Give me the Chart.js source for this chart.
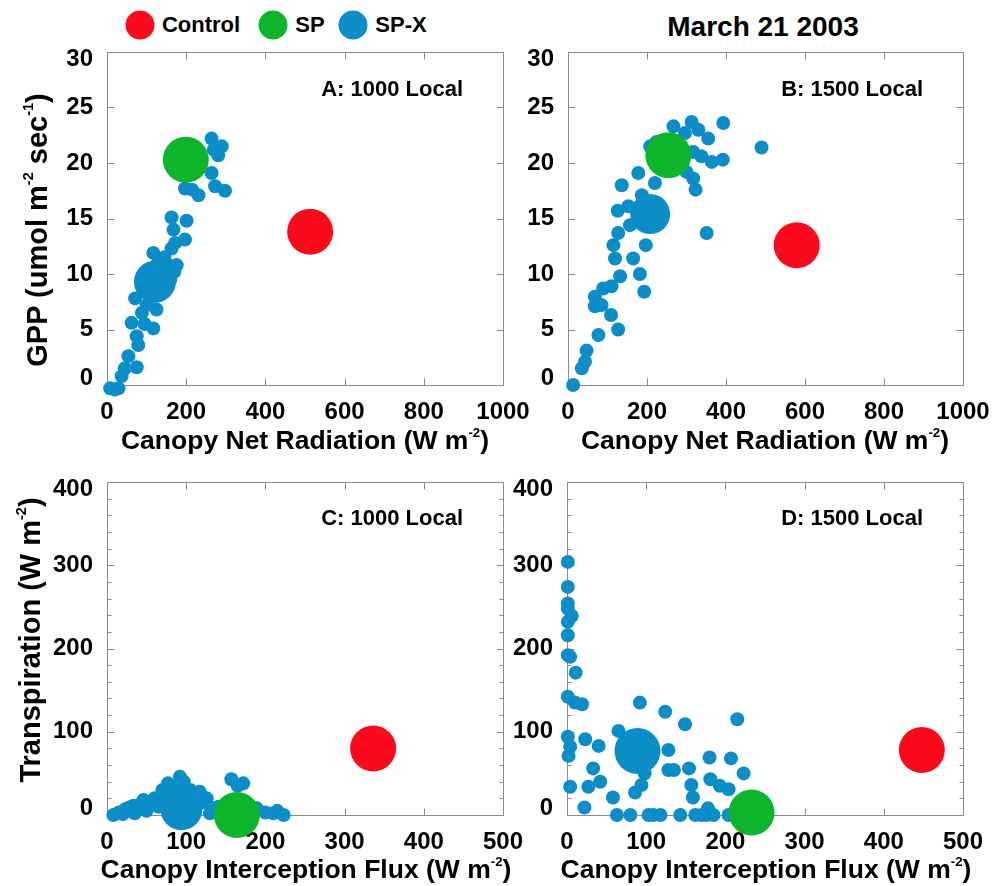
<!DOCTYPE html>
<html>
<head>
<meta charset="utf-8">
<script src="https://cdn.jsdelivr.net/npm/chart.js@4.4.1/dist/chart.umd.min.js"></script>
<style>
  html, body { margin: 0; padding: 0; background: #fff; }
  #page { position: relative; width: 1007px; height: 886px; overflow: hidden;
          font-family: "Liberation Sans", Arial, Helvetica, sans-serif; font-weight: bold; color: #000; }
  .cv { position: absolute; }
  .txt { position: absolute; white-space: nowrap; line-height: 1; transform: translate(-50%, -50%); }
  .rt { position: absolute; white-space: nowrap; line-height: 1; transform: translate(-100%, -50%); }
  .rot { position: absolute; white-space: nowrap; line-height: 1; transform: translate(-50%, -50%) rotate(-90deg); }
  sup { font-size: 0.5em; vertical-align: 0.9em; line-height: 0; }
  .dot { position: absolute; width: 29px; height: 29px; border-radius: 50%; transform: translate(-50%, -50%); }
</style>
</head>
<body>
<div id="page">
  <!-- legend -->
  <div class="dot" style="left:140px; top:25px; background:#fb0a1c"></div>
  <div class="txt" style="left:201px; top:25px; font-size:22px">Control</div>
  <div class="dot" style="left:273px; top:25px; background:#0db52b"></div>
  <div class="txt" style="left:310px; top:25px; font-size:22px">SP</div>
  <div class="dot" style="left:353px; top:25px; background:#0b8ec8"></div>
  <div class="txt" style="left:401px; top:25px; font-size:22px">SP-X</div>
  <div class="txt" style="left:763px; top:27px; font-size:28px">March 21 2003</div>

  <canvas id="cA" class="cv"></canvas>
  <canvas id="cB" class="cv"></canvas>
  <canvas id="cC" class="cv"></canvas>
  <canvas id="cD" class="cv"></canvas>

  <div class="rt" style="left:463px; top:89px; font-size:22px">A: 1000 Local</div>
  <div class="rt" style="left:923px; top:89px; font-size:22px">B: 1500 Local</div>
  <div class="rt" style="left:463px; top:518px; font-size:22px">C: 1000 Local</div>
  <div class="rt" style="left:923px; top:518px; font-size:22px">D: 1500 Local</div>

  <div class="txt" style="left:305px; top:440px; font-size:26.5px">Canopy Net Radiation (W m<sup>-2</sup>)</div>
  <div class="txt" style="left:765px; top:440px; font-size:26.5px">Canopy Net Radiation (W m<sup>-2</sup>)</div>
  <div class="txt" style="left:306px; top:869px; font-size:26.5px">Canopy Interception Flux (W m<sup>-2</sup>)</div>
  <div class="txt" style="left:766px; top:869px; font-size:26.5px">Canopy Interception Flux (W m<sup>-2</sup>)</div>

  <div class="rot" style="left:37px; top:230px; font-size:29px">GPP (umol m<sup>-2</sup> sec<sup>-1</sup>)</div>
  <div class="rot" style="left:30px; top:640px; font-size:29px">Transpiration (W m<sup>-2</sup>)</div>
</div>

<script>
// ---- tick labels ----
const radiationTicks = [0, 200, 400, 600, 800, 1000];
const gppTicks = [0, 5, 10, 15, 20, 25, 30];
const fluxTicks = [0, 100, 200, 300, 400, 500];
const transpirationTicks = [0, 100, 200, 300, 400];

// ---- A: 1000 local, GPP vs canopy net radiation ----
const aSpxNetRad = [8, 20, 29, 37, 45, 54, 75, 79, 75, 62, 95, 117, 88, 125, 71, 100, 92, 110, 135, 105,
                    150, 160, 140, 125, 110, 155, 170, 145, 117, 176, 163, 172, 197, 168, 163, 201,
                    197, 215, 231, 264, 273, 298, 264, 290, 281, 270];
const aSpxGpp    = [-0.3, -0.4, -0.3, 0.8, 1.5, 2.6, 1.6, 3.6, 4.4, 5.6, 5.5, 5.1, 6.5, 6.8, 7.8, 7.2, 8.6, 8.0, 8.2, 9.3,
                    8.8, 9.5, 10.3, 10.8, 10.2, 10.8, 10.2, 11.5, 11.9, 10.8, 12.3, 12.8, 13.1, 14.0, 15.1, 14.8,
                    17.7, 17.6, 17.1, 19.1, 17.9, 17.5, 22.2, 21.5, 20.7, 21.2];
const aControl = [513, 13.8];
const aSP = [199, 20.3];
const aSpxMean = [121, 9.3];

// ---- B: 1500 local, GPP vs canopy net radiation ----
const bSpxNetRad = [13, 35, 43, 47, 77, 127, 109, 68, 85, 68, 89, 110, 132, 193, 182, 165, 119, 115, 197, 127,
                    351, 126, 153, 157, 187, 136, 220, 178, 208, 224, 267, 296, 313, 330, 355, 393, 490,
                    317, 338, 364, 392, 300, 317, 323];
const bSpxGpp    = [0.0, 1.5, 2.1, 3.1, 4.5, 5.0, 6.3, 7.1, 7.2, 7.95, 8.7, 8.9, 9.8, 8.4, 10.0, 11.4, 11.4, 12.6, 12.6, 13.7,
                    13.7, 15.7, 16.1, 14.4, 17.1, 18.0, 18.2, 19.1, 21.5, 21.9, 23.3, 22.7, 23.7, 23.0, 22.2, 23.6, 21.4,
                    21.0, 20.6, 20.1, 20.3, 19.2, 18.6, 17.6];
const bControl = [579, 12.6];
const bSP = [254, 20.7];
const bSpxMean = [208, 15.4];

// ---- C: 1000 local, transpiration vs canopy interception flux ----
const cSpxFlux  = [8, 23, 33, 46, 58, 70, 77, 92, 88, 80, 65, 50, 35, 105, 117, 126, 130, 141, 157, 172,
                   165, 189, 200, 210, 223, 110, 20, 100, 150,
                   15, 28, 40, 52, 60, 72, 84, 97, 108, 120, 135, 145, 180, 215];
const cSpxTransp = [0, 7, 11, 18, 16, 30, 38, 46, 36, 22, 10, 5, 2, 30, 28, 20, 2, 10, 43, 38,
                    35, 8, 3, 2, 0, 12, 1, 18, 5,
                    3, 9, 12, 14, 20, 20, 30, 40, 25, 15, 8, 3, 3, 5];
const cControl = [336, 80];
const cSP = [164, 0];
const cSpxMean = [94, 7];

// ---- D: 1500 local, transpiration vs canopy interception flux ----
const dSpxFlux  = [1, 1, 1, 1, 6, 1, 1, 1, 4, 11, 1, 10, 19, 1, 4, 2, 23, 40, 65, 92, 124, 149, 128, 33, 27, 42,
                   4, 22, 58, 86, 94, 98, 128, 135, 154, 157, 159, 180, 207, 223, 215, 181, 193, 204,
                   63, 80, 103, 109, 118, 143, 162, 170, 176, 185, 204, 178];
const dSpxTransp = [304, 274, 254, 248, 239, 232, 216, 192, 190, 171, 142, 135, 133, 94, 82, 71, 91, 83, 101, 135, 124, 109, 78, 56, 34, 40,
                    34, 9, 21, 27, 36, 50, 54, 54, 56, 36, 21, 69, 68, 50, 115, 43, 35, 31,
                    0, 0, 0, 0, 0, 0, 0, 0, 0, 0, 0, 8];
const dControl = [448, 78];
const dSP = [233, 3];
const dSpxMean = [89, 77];

// ---- styling ----
const RED = '#fb0a1c', GREEN = '#0db52b', BLUE = '#0b8ec8';
const FONT = '"Liberation Sans", Arial, Helvetica, sans-serif';
const M = { left: 70, top: 30, right: 40, bottom: 45 };   // canvas margins around each plot area

// box frame with inward ticks on all four sides
const frameTicks = {
  id: 'frameTicks',
  beforeDatasetsDraw(chart, args, opts) {
    const { ctx, chartArea: { left, right, top, bottom }, scales: { x, y } } = chart;
    const L = Math.round(left) + 0.5, R = Math.round(right) + 0.5;
    const T = Math.round(top) + 0.5, B = Math.round(bottom) + 0.5;
    ctx.save();
    ctx.strokeStyle = '#8a8a8a';
    ctx.lineWidth = 1;
    ctx.beginPath();
    ctx.rect(L, T, R - L, B - T);
    const major = 7, minor = 4;
    x.ticks.forEach(t => {
      const p = Math.round(x.getPixelForValue(t.value)) + 0.5;
      ctx.moveTo(p, B); ctx.lineTo(p, B - major);
      ctx.moveTo(p, T); ctx.lineTo(p, T + major);
    });
    const yMajor = y.ticks.map(t => t.value);
    yMajor.forEach(v => {
      const p = Math.round(y.getPixelForValue(v)) + 0.5;
      ctx.moveTo(L, p); ctx.lineTo(L + major, p);
      ctx.moveTo(R, p); ctx.lineTo(R - major, p);
    });
    if (opts.yMinor) {
      for (let v = y.min; v <= y.max + 1e-9; v += opts.yMinor) {
        if (yMajor.some(m => Math.abs(m - v) < 1e-9)) continue;
        const p = Math.round(y.getPixelForValue(v)) + 0.5;
        ctx.moveTo(L, p); ctx.lineTo(L + minor, p);
        ctx.moveTo(R, p); ctx.lineTo(R - minor, p);
      }
    }
    ctx.stroke();
    ctx.restore();
  }
};

function pts(xs, ys) { return xs.map((v, i) => ({ x: v, y: ys[i] })); }

function makePanel(id, area, xTicks, yTicks, yMinor, series, meanRadius) {
  const cv = document.getElementById(id);
  const w = (area.r - area.l) + M.left + M.right;
  const h = (area.b - area.t) + M.top + M.bottom;
  cv.width = w; cv.height = h;
  cv.style.left = (area.l - M.left) + 'px';
  cv.style.top = (area.t - M.top) + 'px';
  cv.style.width = w + 'px'; cv.style.height = h + 'px';

  const tickFont = { family: FONT, size: 24, weight: 'bold' };
  const dot = (label, data, color, r) => ({
    label, data, backgroundColor: color, borderWidth: 0,
    pointRadius: r, pointHoverRadius: r, clip: false
  });

  return new Chart(cv, {
    type: 'scatter',
    data: {
      datasets: [
        dot('Control', [{ x: series.control[0], y: series.control[1] }], RED, 23),
        dot('SP', [{ x: series.sp[0], y: series.sp[1] }], GREEN, 23),
        dot('SP-X', [{ x: series.spxMean[0], y: series.spxMean[1] }], BLUE, meanRadius),
        dot('SP-X', pts(series.spxX, series.spxY), BLUE, 7)
      ]
    },
    options: {
      responsive: false, animation: false, devicePixelRatio: 1,
      layout: { padding: { top: M.top, right: M.right, left: 0, bottom: 0 } },
      plugins: { legend: { display: false }, tooltip: { enabled: false }, frameTicks: { yMinor } },
      events: [],
      scales: {
        x: {
          type: 'linear', min: xTicks[0], max: xTicks[xTicks.length - 1],
          afterBuildTicks: s => { s.ticks = xTicks.map(v => ({ value: v })); },
          afterFit: s => { s.height = M.bottom; },
          grid: { display: false }, border: { display: false },
          ticks: { font: tickFont, color: '#000', padding: 5, maxRotation: 0, autoSkip: false,
                   callback: v => String(v) }
        },
        y: {
          type: 'linear', min: yTicks[0], max: yTicks[yTicks.length - 1],
          afterBuildTicks: s => { s.ticks = yTicks.map(v => ({ value: v })); },
          afterFit: s => { s.width = M.left; },
          grid: { display: false }, border: { display: false },
          ticks: {
            font: { ...tickFont, lineHeight: 0.58 }, color: '#000', padding: 6, autoSkip: false,
            // end labels sit slightly inside the frame
            callback(v) {
              if (v === yTicks[yTicks.length - 1]) return ['', String(v)];
              if (v === yTicks[0]) return [String(v), ''];
              return String(v);
            }
          }
        }
      }
    },
    plugins: [frameTicks]
  });
}

makePanel('cA', { l: 107, t: 52, r: 503, b: 385 }, radiationTicks, gppTicks, null,
  { control: aControl, sp: aSP, spxMean: aSpxMean, spxX: aSpxNetRad, spxY: aSpxGpp }, 21);
makePanel('cB', { l: 568, t: 52, r: 963, b: 385 }, radiationTicks, gppTicks, null,
  { control: bControl, sp: bSP, spxMean: bSpxMean, spxX: bSpxNetRad, spxY: bSpxGpp }, 20);
makePanel('cC', { l: 107, t: 482, r: 503, b: 815 }, fluxTicks, transpirationTicks, 20,
  { control: cControl, sp: cSP, spxMean: cSpxMean, spxX: cSpxFlux, spxY: cSpxTransp }, 21);
makePanel('cD', { l: 567, t: 482, r: 963, b: 815 }, fluxTicks, transpirationTicks, 20,
  { control: dControl, sp: dSP, spxMean: dSpxMean, spxX: dSpxFlux, spxY: dSpxTransp }, 23);
</script>
</body>
</html>
